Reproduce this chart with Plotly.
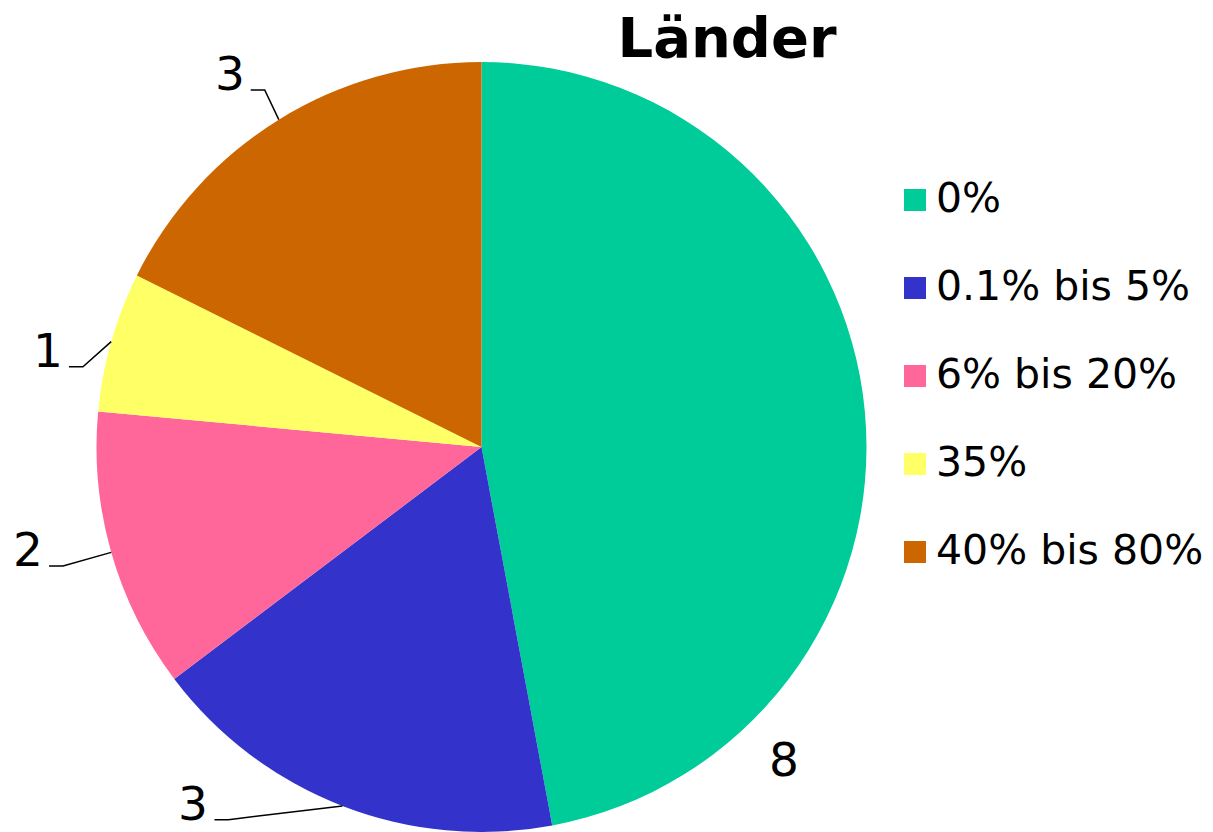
import math
import plotly.graph_objects as go

# data
categories = ["0%", "0.1% bis 5%", "6% bis 20%", "35%", "40% bis 80%"]
counts = [8, 3, 2, 1, 3]
colors = ["#00CC99", "#3333CC", "#FF6699", "#FFFF66", "#CC6600"]

# the page body has an 8px margin, so the figure is a bit smaller and
# everything below is given in window pixels
OFF = 8
W, H = 1213 - OFF, 832 - OFF
FONT = "DejaVu Sans"

# pie geometry (window pixels)
cx, R = 481.5, 385.0
cy = 832 - R

# label placement per slice: angle shift from slice middle (deg), distance factor, leader line
label_pos = [(51.3, 1.13, False),
             (13.0, 1.17, True),
             (0.0, 1.13, True),
             (-4.5, 1.056, True),
             (0.5, 1.085, True)]


def paper(x, y):
    return (x - OFF) / W, 1 - (y - OFF) / H


fig = go.Figure(go.Pie(
    labels=categories,
    values=counts,
    sort=False,
    direction="clockwise",
    rotation=0,
    marker=dict(colors=colors, line=dict(width=0)),
    textinfo="none",
    hoverinfo="label+value",
    showlegend=False,
    domain=dict(x=[paper(cx - R, 0)[0], paper(cx + R, 0)[0]], y=[0, 2 * R / H]),
))

annotations = []
shapes = []

total = sum(counts)
cum = 0
LFS = 47
for v, (shift, k, line) in zip(counts, label_pos):
    mid = (cum + v / 2) / total * 2 * math.pi
    cum += v
    a = mid + math.radians(shift)
    ex, ey = cx + k * R * math.sin(a), cy - k * R * math.cos(a)
    if not line:
        tx, ty = paper(ex, ey)
        annotations.append(dict(x=tx, y=ty, xref="paper", yref="paper", text=str(v),
                                showarrow=False, xanchor="center", yanchor="middle",
                                font=dict(family=FONT, size=LFS, color="black")))
        continue
    sx, sy = cx + R * math.sin(mid), cy - R * math.cos(mid)
    hx = ex - 14
    p0, p1, p2 = paper(sx, sy), paper(ex, ey), paper(hx, ey)
    shapes.append(dict(type="path", xref="paper", yref="paper",
                       path="M %f %f L %f %f L %f %f" % (p0[0], p0[1], p1[0], p1[1], p2[0], p2[1]),
                       line=dict(color="black", width=1.5)))
    tx, ty = paper(hx - 4, ey - 0.35 * LFS)
    annotations.append(dict(x=tx, y=ty, xref="paper", yref="paper", text=str(v),
                            showarrow=False, xanchor="right", yanchor="middle",
                            font=dict(family=FONT, size=LFS, color="black")))

# legend
for i, (name, c) in enumerate(zip(categories, colors)):
    yc = 200 + i * 88
    x0, y0 = paper(904, yc - 11)
    x1, y1 = paper(926, yc + 11)
    shapes.append(dict(type="rect", xref="paper", yref="paper", x0=x0, x1=x1, y0=y1, y1=y0,
                       fillcolor=c, line=dict(width=0)))
    tx, ty = paper(934, yc - 2)
    annotations.append(dict(x=tx, y=ty, xref="paper", yref="paper", text=name,
                            showarrow=False, xanchor="left", yanchor="middle",
                            font=dict(family=FONT, size=41, color="black")))

tx, ty = paper(727, 37)
fig.update_layout(
    width=W, height=H,
    margin=dict(l=0, r=0, t=0, b=0),
    paper_bgcolor="white",
    plot_bgcolor="white",
    title=dict(text="<b>Länder</b>", x=tx, xanchor="center",
               y=ty, yanchor="middle",
               font=dict(family=FONT, size=56, color="black")),
    annotations=annotations,
    shapes=shapes,
    showlegend=False,
)

fig.write_html("out.html")
